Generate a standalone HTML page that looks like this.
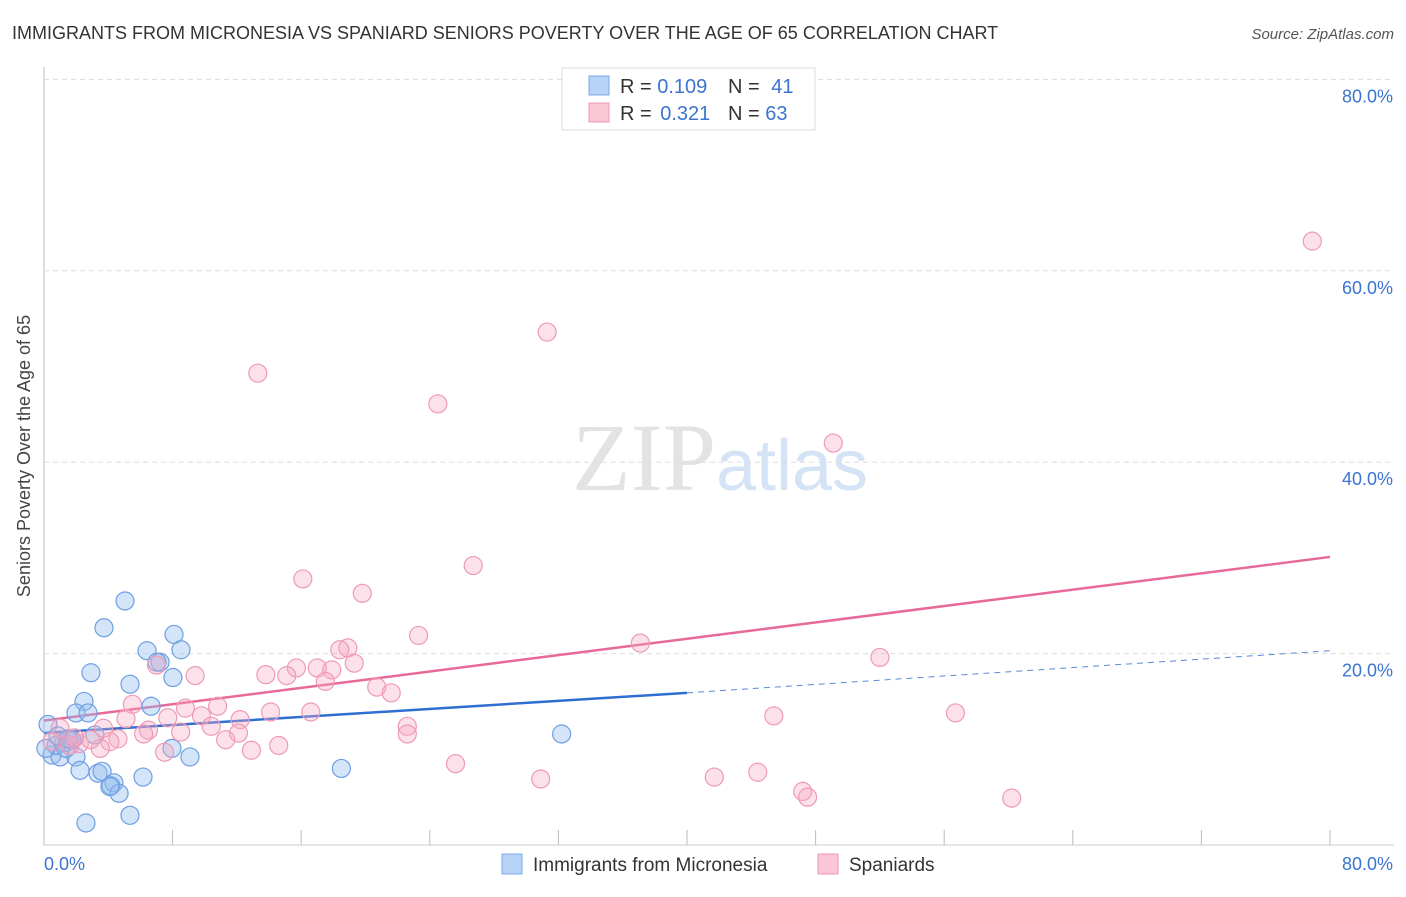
<!DOCTYPE html>
<html><head><meta charset="utf-8"><style>
body{margin:0;background:#fff;font-family:"Liberation Sans",sans-serif;}
svg text{font-family:"Liberation Sans",sans-serif;}
</style></head><body>
<svg id="chart" width="1406" height="892" xmlns="http://www.w3.org/2000/svg">
<text x="12" y="39" font-size="18" fill="#333">IMMIGRANTS FROM MICRONESIA VS SPANIARD SENIORS POVERTY OVER THE AGE OF 65 CORRELATION CHART</text>
<text x="1394" y="39" font-size="15" fill="#555" font-style="italic" text-anchor="end">Source: ZipAtlas.com</text>
<text x="30" y="456" font-size="18" fill="#444" text-anchor="middle" transform="rotate(-90 30 456)">Seniors Poverty Over the Age of 65</text>
<text x="720" y="490" font-size="96" fill="#e3e3e3" text-anchor="middle" font-family="Liberation Serif"><tspan font-family="Liberation Serif">ZIP</tspan><tspan fill="#d4e3f5" font-family="Liberation Sans" font-size="72">atlas</tspan></text>
<g id="grid"></g><g id="ticks"></g><g id="lines"></g><g id="pts"></g>
<g>
<rect x="562" y="68" width="253" height="62" fill="#fff" stroke="#ddd"/>
<rect x="589" y="76" width="20" height="19" fill="#b7d3f5" stroke="#7aa8e3"/>
<rect x="589" y="103" width="20" height="19" fill="#fbc7d6" stroke="#ee9ab5"/>
<text x="620" y="93" font-size="20" fill="#333">R = <tspan fill="#3b74d1">0.109</tspan></text>
<text x="728" y="93" font-size="20" fill="#333">N = <tspan fill="#3b74d1" dx="6">41</tspan></text>
<text x="620" y="120" font-size="20" fill="#333">R = <tspan fill="#3b74d1" dx="3">0.321</tspan></text>
<text x="728" y="120" font-size="20" fill="#333">N = <tspan fill="#3b74d1">63</tspan></text>
</g>
<g>
<rect x="502" y="854" width="20" height="20" fill="#b7d3f5" stroke="#7aa8e3"/>
<text x="533" y="871" font-size="19" fill="#333">Immigrants from Micronesia</text>
<rect x="818" y="854" width="20" height="20" fill="#fbc7d6" stroke="#ee9ab5"/>
<text x="849" y="871" font-size="19" fill="#333">Spaniards</text>
</g>
</svg>
<script>
const yTicks=[20,40,60,80];
const xTickLabels=["0.0%","80.0%"];
const blueX=[5.04,3.73,8.09,6.41,8.52,7.22,7.03,2.92,8.02,5.35,2.49,6.66,1.99,2.74,3.17,1.62,0.25,0.5,1.0,1.24,1.74,1.99,2.24,3.36,3.61,4.17,4.35,4.67,6.16,7.96,9.08,2.61,5.35,18.5,32.2,0.75,1.37,0.12,4.1,0.87,1.49];
const blueY=[25.5,22.7,22.0,20.3,20.4,19.1,19.1,18.0,17.5,16.8,15.0,14.5,13.8,13.8,11.5,11.0,12.6,9.4,9.2,10.7,11.0,9.2,7.8,7.5,7.7,6.2,6.5,5.4,7.1,10.1,9.2,2.3,3.1,8.0,11.6,10.4,10.1,10.1,6.1,11.4,11.1];
const pinkX=[78.9,31.3,13.3,24.5,49.1,26.7,16.1,19.8,23.3,37.1,52.0,18.9,18.4,19.3,17.0,17.9,15.7,13.8,15.1,9.4,17.5,20.7,21.6,10.8,5.5,8.8,7.7,14.1,16.6,9.8,12.2,5.1,45.4,56.7,22.6,6.5,12.1,10.4,8.5,6.2,22.6,4.6,11.3,14.6,4.1,12.9,7.5,3.5,25.6,41.7,44.4,30.9,47.2,47.5,60.2,7.0,1.0,2.2,2.9,3.7,0.5,1.6,1.9];
const pinkY=[63.1,53.6,49.3,46.1,42.0,29.2,27.8,26.3,21.9,21.1,19.6,20.6,20.4,19.0,18.5,18.3,18.5,17.8,17.7,17.7,17.1,16.5,15.9,14.5,14.7,14.3,13.3,13.9,13.9,13.5,13.1,13.2,13.5,13.8,12.4,12.0,11.7,12.4,11.8,11.6,11.6,11.1,11.0,10.4,10.8,9.9,9.7,10.1,8.5,7.1,7.6,6.9,5.6,5.0,4.9,18.8,12.2,10.6,11.0,12.2,10.8,10.4,11.2];
const pinkTrend=[13.0,30.1];
const blueTrend=[11.7,15.9,20.3];
const NS="http://www.w3.org/2000/svg";
const sx=v=>44+v*16.075, sy=v=>845-v*9.57;
function mk(g,t,a){const e=document.createElementNS(NS,t);for(const k in a)e.setAttribute(k,a[k]);document.getElementById(g).appendChild(e);return e;}
let ax=mk('grid','line',{x1:44,y1:67,x2:44,y2:845,stroke:'#bbb'});


let bx=mk('grid','line',{x1:44,y1:845,x2:1394,y2:845,stroke:'#ccc'});


yTicks.forEach(t=>{
 let l=mk('grid','line',{x1:44,x2:1394,y1:sy(t),y2:sy(t),stroke:'#ddd','stroke-dasharray':'5,4'});
 
 
 let tx=mk('ticks','text',{x:1393,y:sy(t)+23,'font-size':18,fill:'#3b74d1','text-anchor':'end'});
 tx.textContent=t.toFixed(1)+'%';
 
 
});
for(let i=1;i<=10;i++){
 let l=mk('ticks','line',{x1:sx(i*8),x2:sx(i*8),y1:830,y2:845,stroke:'#bbb'});
 
 
}
let x0=mk('ticks','text',{x:44,y:870,'font-size':18,fill:'#3b74d1'});x0.textContent=xTickLabels[0];


let x1=mk('ticks','text',{x:1393,y:870,'font-size':18,fill:'#3b74d1','text-anchor':'end'});x1.textContent=xTickLabels[1];


blueX.forEach((v,i)=>{
 let c=mk('pts','circle',{cx:sx(v),cy:sy(blueY[i]),r:9,fill:'rgba(150,190,240,0.4)',stroke:'#6e9fe2','stroke-width':1.2});
 
 
});
pinkX.forEach((v,i)=>{
 let c=mk('pts','circle',{cx:sx(v),cy:sy(pinkY[i]),r:9,fill:'rgba(245,170,195,0.35)',stroke:'#ee9ab5','stroke-width':1.2});
 
 
});
let pl=mk('lines','line',{x1:sx(0),y1:sy(pinkTrend[0]),x2:sx(80),y2:sy(pinkTrend[1]),stroke:'#e8689a','stroke-width':2.5});


let bl=mk('lines','line',{x1:sx(0),y1:sy(blueTrend[0]),x2:sx(40),y2:sy(blueTrend[1]),stroke:'#2f6fd1','stroke-width':2.5});


let bd=mk('lines','line',{x1:sx(40),y1:sy(blueTrend[1]),x2:sx(80),y2:sy(blueTrend[2]),stroke:'#5a8ad6','stroke-width':1,'stroke-dasharray':'6,5'});


</script>
</body></html>
